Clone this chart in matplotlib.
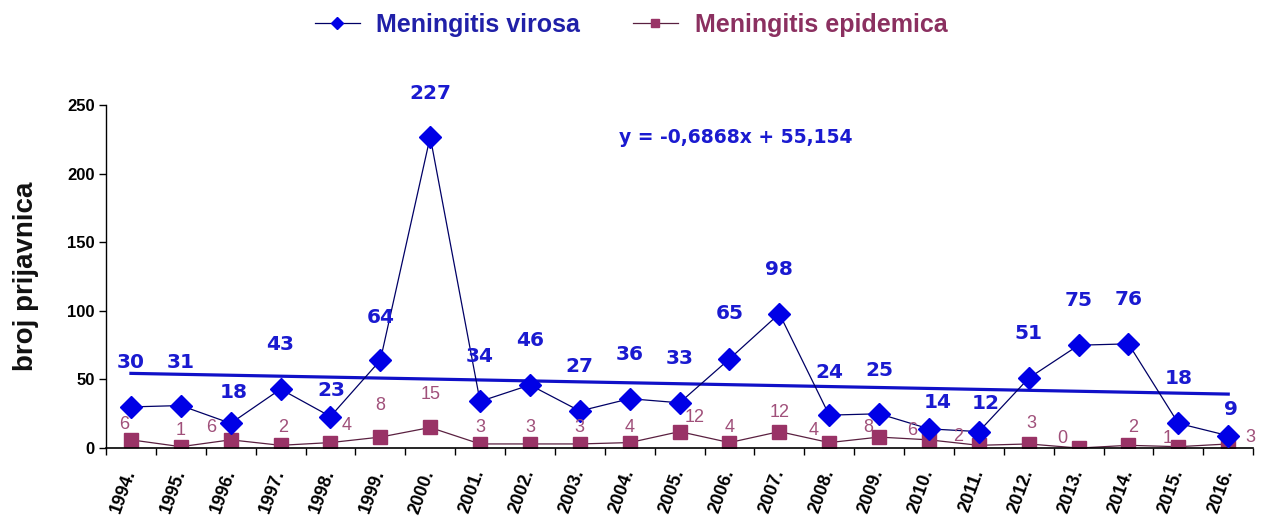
import numpy as np
import matplotlib.pyplot as plt
import matplotlib.transforms as mtransforms

plt.rcParams['font.family'] = ['Liberation Sans', 'DejaVu Sans']

years = ['1994.', '1995.', '1996.', '1997.', '1998.', '1999.', '2000.', '2001.',
         '2002.', '2003.', '2004.', '2005.', '2006.', '2007.', '2008.', '2009.',
         '2010.', '2011.', '2012.', '2013.', '2014.', '2015.', '2016.']
virosa = [30, 31, 18, 43, 23, 64, 227, 34, 46, 27, 36, 33, 65, 98, 24, 25,
          14, 12, 51, 75, 76, 18, 9]
epidemica = [6, 1, 6, 2, 4, 8, 15, 3, 3, 3, 4, 12, 4, 12, 4, 8, 6, 2, 3, 0,
             2, 1, 3]
trend_slope = -0.6868
trend_icept = 55.154

# label offsets in points (dx, dy)
vir_off = [(0, 32), (0, 31), (2, 22), (0, 32), (1, 19), (0, 31), (0, 31),
           (0, 32), (0, 32), (0, 32), (0, 32), (0, 32), (0, 33), (0, 32),
           (0, 31), (0, 31), (6, 19), (5, 20), (0, 32), (0, 32), (0, 32),
           (0, 32), (2, 19)]
epi_off = [(-5, 11), (0, 12), (-14, 9), (2, 13), (12, 12), (0, 23), (0, 24),
           (0, 12), (0, 12), (0, 12), (0, 11), (11, 10), (0, 11), (0, 14),
           (-11, 9), (-8, 7), (-12, 7), (-15, 6), (2, 15), (-12, 7), (3, 13),
           (-8, 6), (16, 5)]

blue = '#0000e6'
navy = '#000066'
plum = '#993366'
plum_txt = '#a0507a'
lbl_blue = '#1a1ad0'

x = np.arange(len(years))
trend = trend_icept + trend_slope * (x + 1)

fig = plt.figure(figsize=(12.62, 5.21), dpi=100)
ax = fig.add_axes([0.084, 0.140, 0.909, 0.658])

ax.plot(x, trend, color='#1010c8', lw=2.3, zorder=1)
l1, = ax.plot(x, virosa, color=navy, lw=0.9, marker='D', markersize=11,
              markerfacecolor=blue, markeredgecolor=blue, zorder=3,
              label='Meningitis virosa')
l2, = ax.plot(x, epidemica, color='#5a2040', lw=0.9, marker='s', markersize=9.5,
              markerfacecolor=plum, markeredgecolor=plum, zorder=2,
              label='Meningitis epidemica')

for i in range(len(x)):
    ax.annotate(str(virosa[i]), (x[i], virosa[i]), xytext=vir_off[i],
                textcoords='offset points', ha='center', va='center',
                fontsize=14.5, fontweight='bold', color=lbl_blue, zorder=5,
                family='DejaVu Sans')
    ax.annotate(str(epidemica[i]), (x[i], epidemica[i]), xytext=epi_off[i],
                textcoords='offset points', ha='center', va='center',
                fontsize=13, color=plum_txt, zorder=5)

ax.text(12.13, 226.7, 'y = -0,6868x + 55,154', ha='center', va='center',
        fontsize=13.5, fontweight='bold', color=lbl_blue, family='DejaVu Sans')

ax.set_xlim(-0.5, len(x) - 0.5)
ax.set_ylim(0, 250)
ax.set_yticks([0, 50, 100, 150, 200, 250])
ax.set_xticks(x)
ax.set_xticklabels(years, rotation=70, fontsize=13, fontweight='bold',
                   rotation_mode='anchor', ha='right', va='center')
shift = mtransforms.ScaledTranslation(3 / 72, 0, fig.dpi_scale_trans)
for lab in ax.get_xticklabels():
    lab.set_transform(lab.get_transform() + shift)
ax.set_xticks(np.arange(-0.5, len(x), 1), minor=True)
ax.tick_params(axis='x', which='major', length=0, pad=16)
ax.tick_params(axis='x', which='minor', length=5, direction='out', width=1)
ax.tick_params(axis='y', length=5, width=1, labelsize=12, pad=3)
for lab in ax.get_yticklabels():
    lab.set_fontweight('bold')
for s in ['top', 'right']:
    ax.spines[s].set_visible(False)
ax.spines['left'].set_linewidth(1)
ax.spines['bottom'].set_linewidth(1.2)

ax.set_ylabel('broj prijavnica', fontsize=20, fontweight='bold', labelpad=20,
              color='#111111')

leg = fig.legend(handles=[l1, l2], loc='center', bbox_to_anchor=(0.500, 0.952),
                 ncol=2, frameon=False, fontsize=18, handlelength=1.8,
                 handletextpad=0.68, columnspacing=2.1, markerscale=0.6)
for t, c in zip(leg.get_texts(), ['#2020a8', '#8b3060']):
    t.set_color(c)
    t.set_fontweight('bold')

fig.savefig('out.png', dpi=100)
